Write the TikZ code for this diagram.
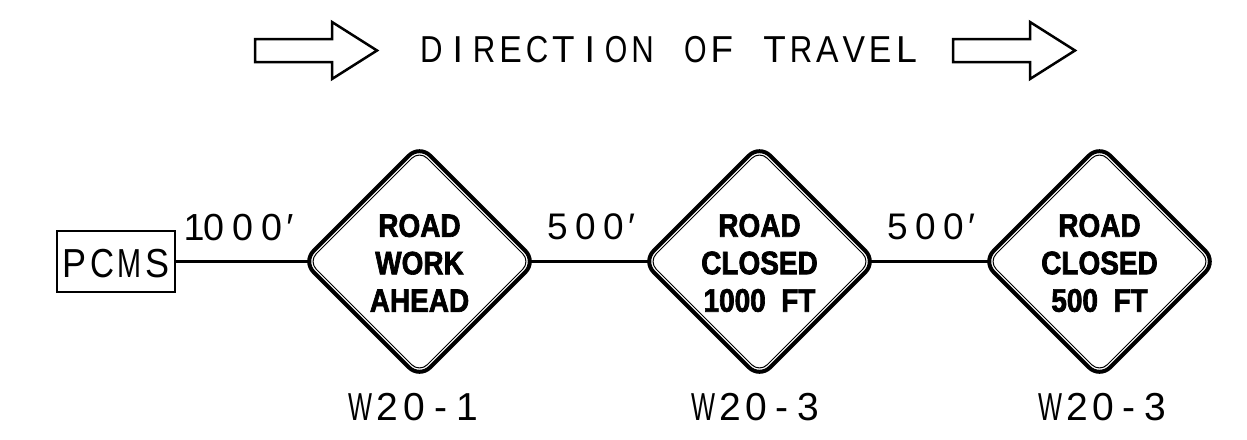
\documentclass[tikz,border=0pt]{standalone}
\usepackage{fontspec}
\usetikzlibrary{shapes.geometric}
\newfontfamily\cadfont{Liberation Sans}
\newfontfamily\signfont{Liberation Sans}[FakeStretch=0.86, FakeBold=2]

% evenly spaced lettering: every character sits centred in a cell of fixed
% width, and glyphs wider than the limit are narrowed to it
\newlength\cadw
\newlength\cadmax
\newsavebox\cadglyph
\newcommand\cadstr[3]{\setlength\cadw{#1}\setlength\cadmax{#2}\cadloop#3\relax}
\def\cadloop#1{\ifx\relax#1\else
  \sbox\cadglyph{#1}%
  \ifdim\wd\cadglyph>\cadmax
    \makebox[\cadw][c]{\resizebox{\cadmax}{\height}{\usebox\cadglyph}}%
  \else
    \makebox[\cadw][c]{\usebox\cadglyph}%
  \fi
  \expandafter\cadloop\fi}

\tikzset{
  lettering/.style={inner sep=0pt, outer sep=0pt, anchor=base},
  link/.style={line width=2.6pt},
  edge out/.style={shorten <=-5pt},
  edge in/.style={shorten >=-5pt},
  signedge/.style={shape=diamond, draw, line width=4pt, rounded corners=15pt,
    minimum width=233pt, minimum height=233pt, inner sep=0pt, outer sep=0pt},
  signinner/.style={shape=diamond, draw, line width=1pt, rounded corners=11pt,
    minimum width=222pt, minimum height=222pt, inner sep=0pt, outer sep=0pt},
  signtext/.style={inner sep=0pt, align=center,
    font=\signfont\bfseries\fontsize{32.5}{37.5}\selectfont},
  pcmsbox/.style={draw, line width=2pt, minimum width=118pt, minimum height=61pt,
    inner sep=0pt},
  travel arrow/.pic={
    \draw[line width=2.5pt, line join=miter]
      (0,-11.5) -- (77,-11.5) -- (77,-28.5) -- (122,0) -- (77,28.5)
      -- (77,11.5) -- (0,11.5) -- cycle;
  }
}

\begin{document}
\begin{tikzpicture}[x=1pt, y=-1pt]
  \fill[white] (0,0) rectangle (1247,439);
  \useasboundingbox (0,0) rectangle (1247,439);

  % heading with the two direction arrows
  \pic at (255,50.5) {travel arrow};
  \pic at (953,50.5) {travel arrow};
  \node[lettering, font=\cadfont\fontsize{37.5}{40}\selectfont] (title) at (669,62)
    {\cadstr{26.4pt}{22.5pt}{DIRECTION~OF~TRAVEL}};

  % portable changeable message sign
  \node[pcmsbox] (pcms) at (116,261.5) {};
  \node[lettering, font=\cadfont\fontsize{40.5}{42}\selectfont] (pcmstxt) at (116,277)
    {\cadstr{27.5pt}{24pt}{PCMS}};

  % warning signs
  \node[signedge] (d1) at (419.5,261.5) {};
  \node[signinner] (d1i) at (d1.center) {};
  \node[signtext] (t1) at (419.5,263) {ROAD\\WORK\\AHEAD};

  \node[signedge] (d2) at (759.5,261.5) {};
  \node[signinner] (d2i) at (d2.center) {};
  \node[signtext] (t2) at (759.5,263) {ROAD\\CLOSED\\1000~~FT};

  \node[signedge] (d3) at (1099.5,261.5) {};
  \node[signinner] (d3i) at (d3.center) {};
  \node[signtext] (t3) at (1099.5,263) {ROAD\\CLOSED\\500~~FT};

  % spacing between the signs
  \draw[link, edge in] (pcms.east) -- (d1.west);
  \draw[link, edge out, edge in] (d1.east) -- (d2.west);
  \draw[link, edge out, edge in] (d2.east) -- (d3.west);

  \node[lettering, font=\cadfont\fontsize{37.7}{40}\selectfont] (l1) at (241.5,240)
    {\makebox[10pt][c]{1}\cadstr{29pt}{24pt}{000}\makebox[8pt][c]{′}};
  \node[lettering, font=\cadfont\fontsize{37}{40}\selectfont] (l2) at (589.5,239)
    {\cadstr{28pt}{24pt}{500}\makebox[8pt][c]{′}};
  \node[lettering, font=\cadfont\fontsize{37}{40}\selectfont] (l3) at (929.5,239)
    {\cadstr{28pt}{24pt}{500}\makebox[8pt][c]{′}};

  % sign codes
  \node[lettering, font=\cadfont\fontsize{39}{42}\selectfont] (c1) at (414,420)
    {\cadstr{26.6pt}{24pt}{W20-1}};
  \node[lettering, font=\cadfont\fontsize{39}{42}\selectfont] (c2) at (756,420)
    {\cadstr{26.1pt}{24pt}{W20-3}};
  \node[lettering, font=\cadfont\fontsize{39}{42}\selectfont] (c3) at (1103,420)
    {\cadstr{26.1pt}{24pt}{W20-3}};
\end{tikzpicture}
\end{document}
